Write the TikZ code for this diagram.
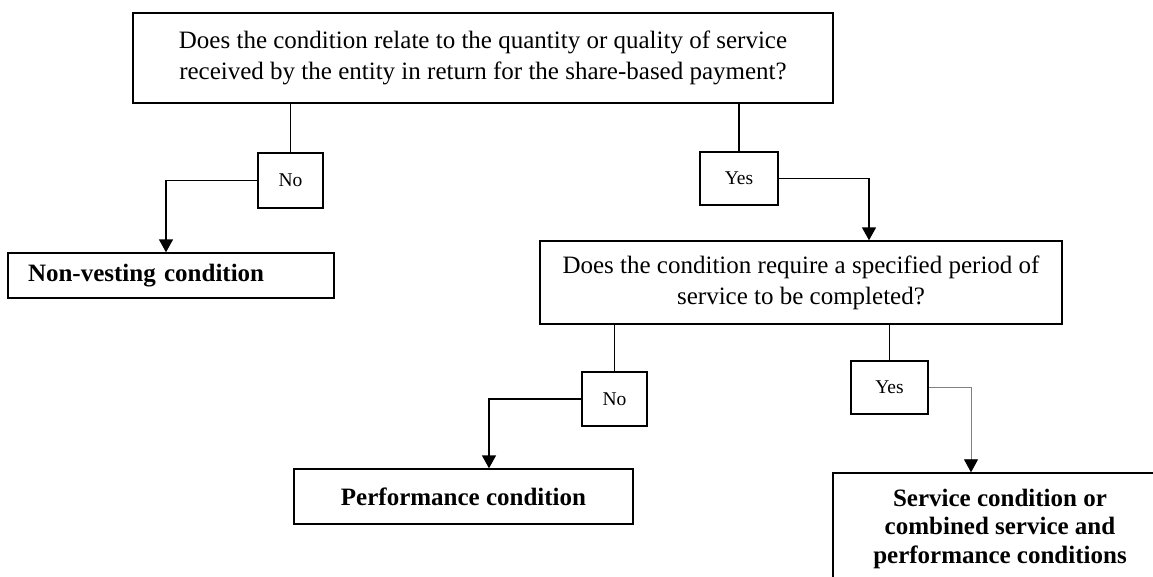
\documentclass[tikz,border=0pt]{standalone}
\usepackage{fontspec}
\setmainfont{Liberation Serif}
\usetikzlibrary{arrows.meta}

\tikzset{
    question/.style={draw,line width=1.4pt,align=center,inner sep=0pt,
        font=\fontsize{25}{31}\selectfont},
    answer/.style={draw,line width=1.4pt,inner sep=0pt,
        font=\fontsize{19.5}{22}\selectfont},
    outcome/.style={draw,line width=1.4pt,inner sep=0pt,
        font=\fontsize{25}{28.5}\selectfont\bfseries},
    link/.style={line width=1.6pt},
    flow/.style={link,->,>={Triangle[length=13pt,width=14pt]}},
    thinflow/.style={draw=gray,line width=0.8pt,->,>={Triangle[length=13pt,width=14pt,color=black]}}
}

\begin{document}
\begin{tikzpicture}[x=1pt,y=-1pt]
    % Page
    \useasboundingbox (0,0) rectangle (1153,576);
    \clip (0,0) rectangle (1153,576);
    % Questions
    \node[question,minimum width=700pt,minimum height=90pt] (q1) at (483,58)
        {Does the condition relate to the quantity or quality of service\\
         received by the entity in return for the share-based payment?};
    \node[question,minimum width=522pt,minimum height=83pt] (q2) at (801,282.5)
        {Does the condition require a specified period of\\
         service to be completed?};
    % Answers
    \node[answer,minimum width=65pt,minimum height=55pt] (no1) at (290.5,180.5) {No};
    \node[answer,minimum width=78pt,minimum height=53pt] (yes1) at (739,178.5) {Yes};
    \node[answer,minimum width=65pt,minimum height=54pt] (no2) at (614.5,399) {No};
    \node[answer,minimum width=77pt,minimum height=53pt] (yes2) at (889.5,387.5) {Yes};
    % Outcomes
    \node[outcome,text width=286pt,inner xsep=20pt,align=left,minimum height=45pt] (nv) at (171,275.5)
        {Non-vesting condition};
    \node[outcome,minimum width=339pt,minimum height=55pt] (perf) at (463.5,496.5)
        {Performance condition};
    \node[outcome,align=center,minimum width=334pt,minimum height=111pt] (svc) at (1000,528.5)
        {Service condition or\\ combined service and\\ performance conditions};
    % Connectors
    \draw[link] (q1.south -| no1.north) -- (no1.north);
    \draw[link] (q1.south -| yes1.north) -- (yes1.north);
    \draw[flow] (no1.west) -| ([xshift=-5pt]nv.north);
    \draw[flow] (yes1.east) -| ([xshift=68pt]q2.north);
    \draw[link] (q2.south -| no2.north) -- (no2.north);
    \draw[link] (q2.south -| yes2.north) -- (yes2.north);
    \draw[flow] (no2.west) -| ([xshift=25.5pt]perf.north);
    \draw[thinflow] (yes2.east) -| ([xshift=-29pt]svc.north);
\end{tikzpicture}
\end{document}
